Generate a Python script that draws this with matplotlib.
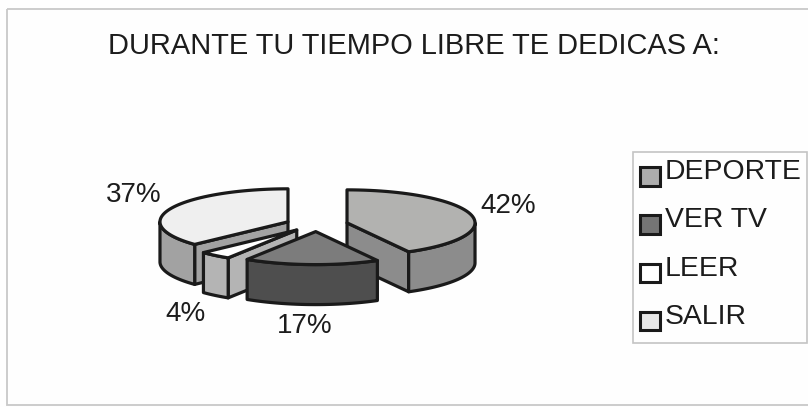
import numpy as np
import matplotlib
matplotlib.use('Agg')
import matplotlib.pyplot as plt
from matplotlib.patches import Polygon, Rectangle

plt.rcParams['font.family'] = ['Liberation Sans', 'DejaVu Sans']

title = 'DURANTE TU TIEMPO LIBRE TE DEDICAS A:'
categories = ['DEPORTE', 'VER TV', 'LEER', 'SALIR']
values = [42, 17, 4, 37]
top_colors = ['#b2b2b0', '#7c7c7c', '#ffffff', '#efefef']
side_colors = ['#8c8c8c', '#4e4e4e', '#b4b4b4', '#a2a2a2']
legend_colors = ['#adadad', '#757575', '#ffffff', '#e8e8e8']
# label position of each percent, in pixels
label_xy = [(508, 206), (305, 326), (185, 314), (134, 195)]

cx, cy = 316.7, 224.6
rx, ry = 128, 33
ex, ey = 31.3, 7
depth = 40

fig = plt.figure(figsize=(8.08, 4.07), dpi=100, facecolor='#fefefe')
ax = fig.add_axes([0, 0, 1, 1])
ax.set_xlim(0, 808)
ax.set_ylim(407, 0)
ax.axis('off')

# chart frame
ax.add_patch(Rectangle((7, 9), 810, 396, fc='none', ec='#c8c8c8', lw=1.3))


def rim(a, b, x0, y0):
    t = np.radians(np.linspace(a, b, 60))
    return np.column_stack([x0 + rx * np.sin(t), y0 - ry * np.cos(t)])


edges = np.cumsum([0] + values) * 3.6
wedges = []
for i in range(len(values)):
    a, b = edges[i], edges[i + 1]
    m = np.radians((a + b) / 2)
    wedges.append((i, a, b, cx + ex * np.sin(m), cy - ey * np.cos(m)))

# back wedges first, VER TV stays in front
for i, a, b, x0, y0 in sorted(wedges, key=lambda w: w[4]):
    style = dict(fc=side_colors[i], ec='#1a1a1a', lw=2.3, joinstyle='round')
    # cut faces, only the ones turned to the viewer
    for ang, normal in [(a, a - 90), (b, b + 90)]:
        if np.cos(np.radians(normal)) < -1e-6:
            p = rim(ang, ang, x0, y0)[0]
            ax.add_patch(Polygon([(x0, y0), p, p + [0, depth], (x0, y0 + depth)], **style))
    # outer wall, front half of the ellipse
    lo, hi = max(a, 90), min(b, 270)
    if lo < hi:
        r = rim(lo, hi, x0, y0)
        ax.add_patch(Polygon(np.vstack([r, r[::-1] + [0, depth]]), **style))
    top = np.vstack([[(x0, y0)], rim(a, b, x0, y0)])
    ax.add_patch(Polygon(top, fc=top_colors[i], ec='#1a1a1a', lw=2.3, joinstyle='round'))

for v, (x, y) in zip(values, label_xy):
    ax.text(x, y, f'{v}%', fontsize=20, color='#1c1c1c', ha='center', va='center')

ax.text(413.5, 46, title, fontsize=20.9, color='#1c1c1c', ha='center', va='center')

# legend
ax.add_patch(Rectangle((633, 152), 174, 191, fc='#fefefe', ec='#c4c4c4', lw=1.2))
for k, name in enumerate(categories):
    y = 172 + k * 48.3
    ax.add_patch(Rectangle((640, y - 5), 20, 18.5, fc=legend_colors[k], ec='#1a1a1a', lw=2.2))
    ax.text(665, y, name, fontsize=20.4, color='#1c1c1c', ha='left', va='center')

fig.savefig('out.png', dpi=100, facecolor=fig.get_facecolor())
